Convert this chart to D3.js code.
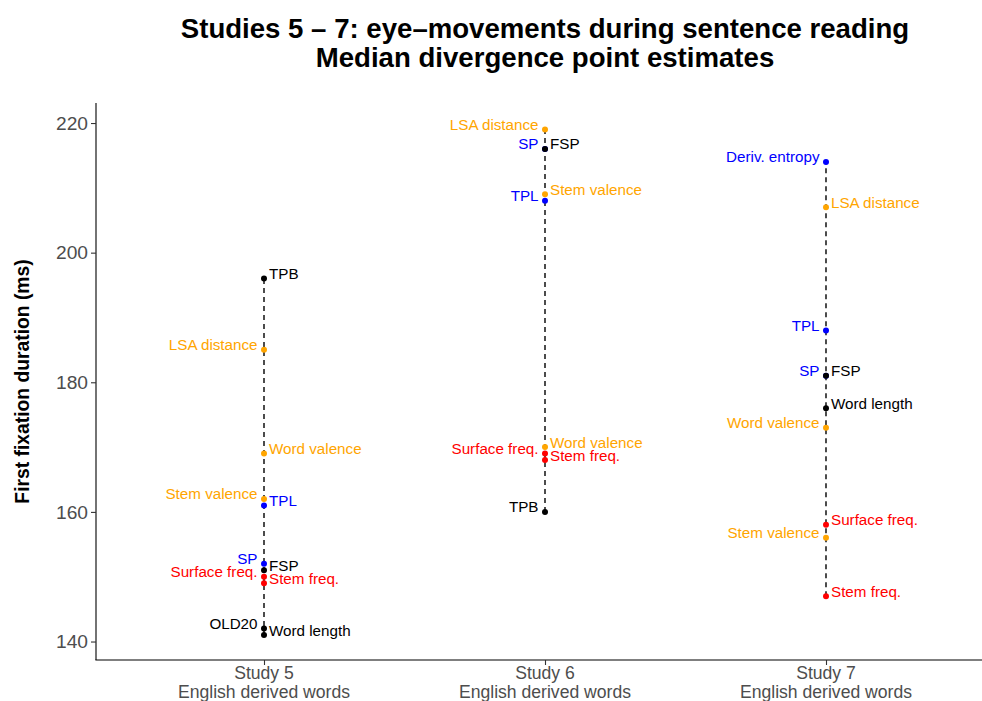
<!DOCTYPE html>
<html><head><meta charset="utf-8">
<script src="https://cdn.jsdelivr.net/npm/d3@7"></script>
<style>
body{margin:0;background:#fff;}
svg{font-family:"Liberation Sans",Arial,Helvetica,sans-serif;}
</style></head>
<body><svg id="c" width="982" height="701"></svg>
<script>
const studies = ["Study 5", "Study 6", "Study 7"];
const studySub = "English derived words";
const yTicks = [140, 160, 180, 200, 220];

const pointStudy = [
  "Study 5","Study 5","Study 5","Study 5","Study 5","Study 5","Study 5","Study 5","Study 5","Study 5","Study 5",
  "Study 6","Study 6","Study 6","Study 6","Study 6","Study 6","Study 6","Study 6","Study 6",
  "Study 7","Study 7","Study 7","Study 7","Study 7","Study 7","Study 7","Study 7","Study 7","Study 7"
];
const pointLabel = [
  "TPB","LSA distance","Word valence","Stem valence","TPL","SP","FSP","Surface freq.","Stem freq.","OLD20","Word length",
  "LSA distance","SP","FSP","Stem valence","TPL","Word valence","Surface freq.","Stem freq.","TPB",
  "Deriv. entropy","LSA distance","TPL","SP","FSP","Word length","Word valence","Surface freq.","Stem valence","Stem freq."
];
const pointValue = [
  196,185,169,162,161,152,151,150,149,142,141,
  219,216,216,209,208,170,169,168,160,
  214,207,188,181,181,176,173,158,156,147
];
const pointGroup = [
  "other","semantic","semantic","semantic","morph","morph","other","freq","freq","other","other",
  "semantic","morph","other","semantic","morph","semantic","freq","freq","other",
  "morph","semantic","morph","morph","other","other","semantic","freq","semantic","freq"
];
const labelSide = [
  "R","L","R","L","R","L","R","L","R","L","R",
  "L","L","R","R","L","R","L","R","L",
  "L","R","L","L","R","R","L","R","L","R"
];
const groupColors = {other:"#000000", semantic:"#FFA500", morph:"#0000FF", freq:"#FF0000"};

const svg = d3.select("#c");
const pLeft = 95.4, pRight = 994.6, pTop = 103, pBottom = 660;

const x = d3.scalePoint().domain(studies).range([pLeft, pRight]).padding(0.6);
const y = d3.scaleLinear().domain([137.15, 223.09]).range([pBottom, pTop]);

const data = pointValue.map((v,i)=>({study:pointStudy[i], label:pointLabel[i], value:v, group:pointGroup[i], side:labelSide[i]}));

// dashed range lines
studies.forEach(s=>{
  const vals = data.filter(d=>d.study===s).map(d=>d.value);
  svg.append("line")
    .attr("x1", x(s)).attr("x2", x(s))
    .attr("y1", y(d3.min(vals))).attr("y2", y(d3.max(vals)))
    .attr("stroke","#000").attr("stroke-width",1.4)
    .attr("stroke-dasharray","5,4");
});

// points
svg.selectAll("circle.pt").data(data).enter().append("circle")
  .attr("class","pt")
  .attr("cx", d=>x(d.study)).attr("cy", d=>y(d.value))
  .attr("r", 3).attr("fill", d=>groupColors[d.group]);

// labels
svg.selectAll("text.lab").data(data).enter().append("text")
  .attr("class","lab")
  .attr("x", d=>x(d.study) + (d.side==="R"?5:-6.5))
  .attr("y", d=>y(d.value) + 0.5)
  .attr("text-anchor", d=>d.side==="R"?"start":"end")
  .attr("font-size","15.2px")
  .attr("fill", d=>groupColors[d.group])
  .text(d=>d.label);

// y axis
const ya = svg.append("g").attr("transform",`translate(${pLeft+0.6},0)`)
  .call(d3.axisLeft(y).tickValues(yTicks).tickSize(5).tickSizeOuter(0).tickPadding(3));
ya.select(".domain").attr("stroke","#000").attr("stroke-width",1.1).attr("d",`M0,${pTop}V${pBottom}`);
ya.selectAll(".tick line").attr("stroke","#333").attr("stroke-width",1.1);
ya.selectAll(".tick text").attr("font-size","19.2px").attr("fill","#4D4D4D")
  .attr("font-family","'Liberation Sans',Arial,sans-serif");

// x axis
const xa = svg.append("g").attr("transform",`translate(0,${pBottom})`)
  .call(d3.axisBottom(x).tickSize(5).tickSizeOuter(0).tickFormat(""));
xa.select(".domain").attr("stroke","#000").attr("stroke-width",1.1).attr("d",`M${pLeft},0H${pRight}`);
xa.selectAll(".tick line").attr("stroke","#333").attr("stroke-width",1.1);
studies.forEach(s=>{
  const t = svg.append("text").attr("x", x(s)).attr("text-anchor","middle")
    .attr("font-size","17.6px").attr("fill","#4D4D4D");
  t.append("tspan").attr("x", x(s)).attr("y", 678.5).text(s);
  t.append("tspan").attr("x", x(s)).attr("y", 697.5).text(studySub);
});

// y axis title
svg.append("text")
  .attr("transform",`translate(28.5,${(pTop+pBottom)/2}) rotate(-90)`)
  .attr("text-anchor","middle").attr("font-weight","bold").attr("font-size","19.3px")
  .text("First fixation duration (ms)");

// title
const cx = (pLeft+pRight)/2;
svg.append("text").attr("x",cx).attr("y",38).attr("text-anchor","middle")
  .attr("font-weight","bold").attr("font-size","27.6px")
  .text("Studies 5 \u2013 7: eye\u2013movements during sentence reading");
svg.append("text").attr("x",cx).attr("y",67).attr("text-anchor","middle")
  .attr("font-weight","bold").attr("font-size","27.6px")
  .text("Median divergence point estimates");
</script>
</body></html>
